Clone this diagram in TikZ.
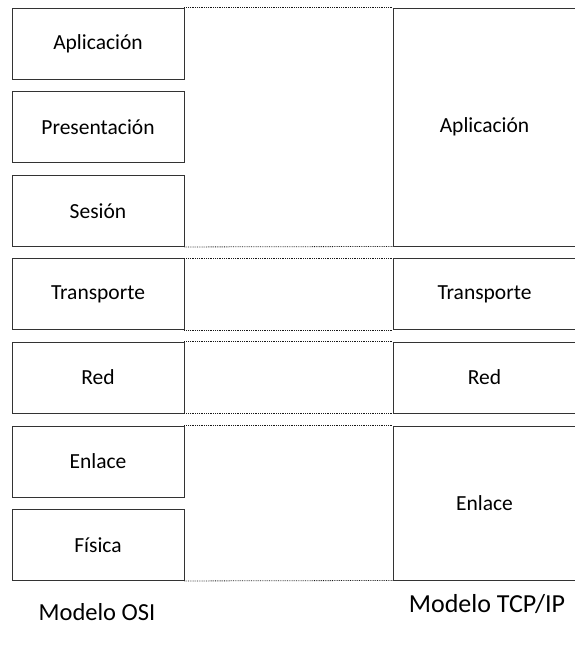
\documentclass[tikz,border=0pt]{standalone}
\usepackage{fontspec}
\setmainfont{Carlito}
\begin{document}
\begin{tikzpicture}[x=1pt,y=-1pt,
  layer/.style={draw=black!80, line width=0.9pt, fill=white, inner sep=0pt,
    font=\fontsize{21.5}{23}\selectfont, text=black},
  osi/.style={layer, minimum width=172pt, minimum height=71pt},
  tcp/.style={layer, minimum width=183pt},
  link/.style={densely dotted, line width=0.8pt, black!90},
  caption/.style={text=black}]
\useasboundingbox (0,0) rectangle (574,649);
% OSI
\node[osi] (o1) at (98,43.5) {Aplicación};
\node[osi] (o2) at (98,127) {Presentación};
\node[osi] (o3) at (98,211) {Sesión};
\node[osi] (o4) at (98,294) {Transporte};
\node[osi] (o5) at (98,377.5) {Red};
\node[osi] (o6) at (98,461.5) {Enlace};
\node[osi] (o7) at (98,545) {Física};
% TCP/IP
\node[tcp, minimum height=238pt] (t1) at (484.5,127) {Aplicación};
\node[tcp, minimum height=71pt] (t2) at (484.5,294) {Transporte};
\node[tcp, minimum height=71pt] (t3) at (484.5,377.5) {Red};
\node[tcp, minimum height=154pt] (t4) at (484.5,503) {Enlace};
% dotted links
\draw[link] (o1.north east) -- (t1.north west);
\draw[link] (o3.south east) -- (t1.south west);
\draw[link] (o4.north east) -- (t2.north west);
\draw[link] (o4.south east) -- (t2.south west);
\draw[link] (o5.north east) -- (t3.north west);
\draw[link] (o5.south east) -- (t3.south west);
\draw[link] (o6.north east) -- (t4.north west);
\draw[link] (o7.south east) -- (t4.south west);
% captions
\node[caption, font=\fontsize{24.5}{26}\selectfont] (c1) at (97,612) {Modelo OSI};
\node[caption, font=\fontsize{26}{28}\selectfont] (c2) at (487,604) {Modelo TCP/IP};
\end{tikzpicture}
\end{document}
